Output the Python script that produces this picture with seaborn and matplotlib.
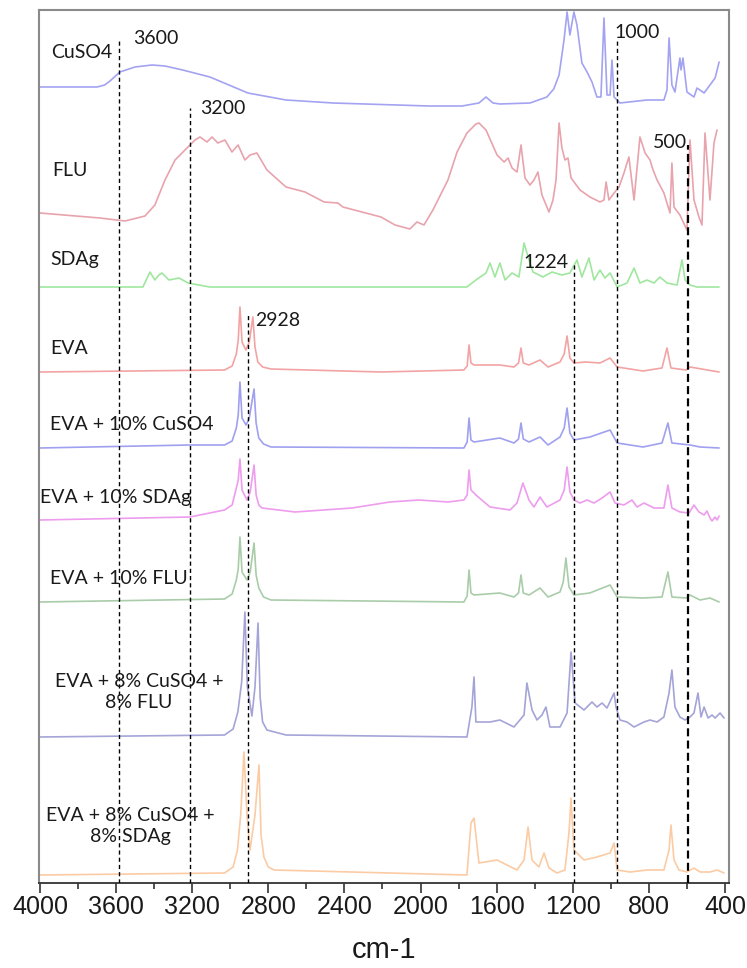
import numpy as np
import pandas as pd
import matplotlib
matplotlib.use("Agg")
import matplotlib.pyplot as plt
import seaborn as sns
from matplotlib.ticker import MultipleLocator

# ---------------- data ----------------
samples = ["CuSO4", "FLU", "SDAg", "EVA", "EVA + 10% CuSO4", "EVA + 10% SDAg",
           "EVA + 10% FLU", "EVA + 8% CuSO4 +\n8% FLU", "EVA + 8% CuSO4 +\n8% SDAg"]
offsets = [796, 670, 596, 511, 435, 363, 281, 146, 8]

cuso4_wn = [4000, 3700, 3660, 3632, 3580, 3501, 3411, 3343, 3250, 3107, 2907, 2707, 2460, 1956, 1782,
            1693, 1656, 1619, 1583, 1425, 1336, 1300, 1272, 1246, 1230, 1215, 1194, 1178, 1152, 1125,
            1099, 1073, 1052, 1036, 1020, 1004, 994, 983, 952, 810, 721, 705, 694, 679, 663,
            637, 631, 621, 600, 563, 547, 510, 479, 452, 431]
cuso4_int = [0, 0, 2, 6, 15, 20, 22, 21, 17, 10, -6, -13, -16, -19, -19,
             -16, -10, -16, -17, -16, -10, -2, 12, 47, 75, 52, 75, 62, 24, 15,
             5, -10, -10, 69, -8, -8, 27, -10, -16, -13, -13, -3, 49, 2, -5,
             29, 17, 29, -5, -10, -1, -6, 2, 9, 25]

flu_wn = [4000, 3685, 3553, 3448, 3396, 3343, 3290, 3238, 3185, 3159, 3122, 3096, 3065, 3028, 2991,
          2959, 2923, 2896, 2860, 2807, 2707, 2607, 2507, 2434, 2408, 2308, 2208, 2134, 2056, 2019,
          1982, 1935, 1856, 1808, 1756, 1709, 1693, 1656, 1598, 1561, 1540, 1519, 1493, 1472, 1451,
          1425, 1404, 1383, 1362, 1325, 1304, 1288, 1272, 1257, 1241, 1225, 1209, 1162, 1110, 1057,
          1036, 1025, 1010, 983, 957, 931, 905, 878, 847, 820, 794, 778, 757, 721, 689,
          679, 668, 637, 600, 584, 563, 537, 521, 505, 479, 458, 442]
flu_int = [0, -5, -8, -3, 8, 33, 53, 63, 73, 76, 71, 76, 70, 73, 61,
           68, 53, 58, 60, 43, 26, 21, 11, 10, 6, 1, -4, -12, -16, -9,
           -12, 3, 33, 61, 80, 89, 90, 83, 58, 51, 55, 45, 41, 68, 35,
           28, 33, 41, 18, 1, 13, 33, 90, 65, 53, 55, 35, 23, 16, 11,
           13, 31, 13, 20, 26, 40, 56, 13, 76, 60, 53, 43, 33, 20, 0,
           50, 6, -2, -17, 73, 13, -4, -12, 80, 13, 70, 83]

sdag_wn = [4000, 3459, 3422, 3396, 3375, 3359, 3322, 3269, 3222, 3107, 1756, 1709, 1656, 1635, 1609,
           1583, 1556, 1519, 1483, 1456, 1430, 1409, 1357, 1309, 1257, 1215, 1178, 1152, 1115, 1088,
           1057, 1031, 1004, 967, 915, 878, 847, 810, 773, 742, 705, 652, 626, 610, 584, 547, 431]
sdag_int = [0, 0, 15, 7, 12, 14, 7, 9, 4, 0, 0, 7, 14, 24, 10,
            24, 7, 14, 10, 44, 27, 15, 10, 15, 12, 14, 27, 10, 29, 7,
            17, 9, 14, 0, 4, 19, 4, 7, 4, 10, 4, 2, 27, 7, 2, 0, 0]

eva_wn = [4000, 3030, 2990, 2968, 2958, 2949, 2938, 2918, 2900, 2881, 2870, 2855, 2830, 2786, 2208,
          1772, 1755, 1745, 1735, 1719, 1583, 1509, 1485, 1472, 1460, 1430, 1372, 1330, 1267, 1245,
          1230, 1215, 1194, 1131, 1057, 1004, 967, 831, 731, 705, 684, 605, 584, 431]
eva_int = [0, 2, 6, 18, 32, 65, 30, 22, 30, 55, 25, 10, 5, 3, 0,
           2, 6, 27, 9, 7, 7, 5, 9, 24, 9, 7, 12, 5, 10, 18,
           36, 14, 9, 10, 9, 14, 5, 1, 4, 24, 4, 2, 5, 0]

eva_cu_wn = [4000, 3212, 3030, 2990, 2968, 2958, 2949, 2938, 2917, 2900, 2875, 2864, 2850, 2825, 2786,
             1772, 1755, 1745, 1735, 1719, 1583, 1509, 1485, 1472, 1460, 1430, 1372, 1330, 1267, 1245,
             1230, 1215, 1194, 1110, 1004, 967, 831, 731, 700, 679, 584, 531, 431]
eva_cu_int = [0, 3, 3, 7, 20, 33, 66, 30, 23, 30, 59, 25, 10, 4, 1,
              0, 6, 30, 8, 6, 10, 5, 9, 25, 9, 6, 11, 3, 11, 20,
              40, 15, 8, 11, 18, 5, 1, 5, 25, 5, 3, 1, 0]

eva_sd_wn = [4000, 3212, 3030, 2990, 2968, 2958, 2949, 2938, 2912, 2895, 2875, 2864, 2850, 2833, 2660,
             2360, 2161, 2008, 1856, 1772, 1755, 1745, 1735, 1709, 1635, 1530, 1493, 1462, 1430, 1404,
             1372, 1336, 1267, 1245, 1230, 1215, 1194, 1162, 1125, 1088, 1046, 1004, 978, 931, 889,
             862, 826, 773, 721, 700, 679, 637, 589, 563, 537, 510, 495, 479, 468, 452,
             442, 431]
eva_sd_int = [0, 3, 10, 15, 32, 40, 61, 30, 20, 28, 55, 25, 15, 12, 8,
              12, 18, 20, 18, 20, 25, 50, 30, 25, 13, 10, 17, 37, 20, 13,
              23, 13, 20, 30, 53, 28, 20, 17, 20, 17, 22, 28, 17, 15, 20,
              13, 17, 12, 12, 35, 12, 8, 7, 15, 8, 5, 9, 2, -1, 3,
              0, 4]

eva_fl_wn = [4000, 3030, 2990, 2968, 2958, 2949, 2938, 2912, 2895, 2875, 2864, 2850, 2825, 2786, 1772,
             1755, 1745, 1735, 1719, 1583, 1509, 1485, 1472, 1460, 1430, 1372, 1330, 1267, 1250, 1236,
             1220, 1194, 1110, 1004, 967, 831, 731, 700, 679, 605, 584, 531, 479, 431]
eva_fl_int = [0, 3, 8, 22, 33, 65, 30, 22, 30, 59, 27, 14, 5, 2, 0,
              6, 32, 9, 7, 9, 5, 9, 27, 9, 7, 14, 5, 10, 20, 44,
              15, 7, 9, 17, 5, 4, 5, 30, 5, 4, 7, 2, 4, 0]

mix_fl_wn = [4000, 3030, 2985, 2960, 2940, 2923, 2910, 2886, 2870, 2854, 2843, 2830, 2807, 2707, 1756,
             1730, 1719, 1709, 1635, 1583, 1509, 1456, 1441, 1414, 1388, 1362, 1341, 1320, 1267, 1230,
             1209, 1188, 1141, 1099, 1073, 1046, 1020, 983, 973, 952, 915, 878, 826, 794, 757,
             721, 694, 679, 663, 637, 610, 584, 563, 542, 526, 510, 489, 468, 452, 426,
             405]
mix_fl_int = [0, 2, 8, 25, 55, 125, 50, 21, 50, 114, 40, 15, 7, 2, 0,
              30, 60, 15, 15, 17, 10, 22, 54, 27, 17, 22, 30, 10, 10, 24,
              85, 34, 27, 35, 30, 34, 29, 44, 30, 17, 15, 10, 15, 17, 15,
              20, 44, 67, 30, 20, 17, 20, 24, 44, 20, 30, 19, 22, 19, 24,
              19]

mix_sd_wn = [4000, 3030, 2985, 2962, 2945, 2928, 2912, 2896, 2870, 2849, 2838, 2823, 2800, 2770, 1756,
             1735, 1719, 1693, 1598, 1546, 1493, 1456, 1435, 1414, 1378, 1351, 1325, 1283, 1241, 1220,
             1209, 1194, 1141, 1073, 1004, 983, 967, 899, 810, 721, 694, 684, 668, 642, 600,
             563, 531, 479, 442, 405]
mix_sd_int = [0, 2, 8, 25, 60, 123, 60, 25, 60, 110, 40, 18, 8, 5, 0,
              52, 57, 12, 15, 10, 5, 15, 48, 15, 8, 22, 7, 2, 5, 42,
              77, 25, 15, 18, 22, 32, 5, 3, 5, 5, 25, 50, 15, 5, 3,
              7, 3, 3, 5, 2]

spectra_wn = [cuso4_wn, flu_wn, sdag_wn, eva_wn, eva_cu_wn, eva_sd_wn, eva_fl_wn, mix_fl_wn, mix_sd_wn]
spectra_int = [cuso4_int, flu_int, sdag_int, eva_int, eva_cu_int, eva_sd_int, eva_fl_int, mix_fl_int, mix_sd_int]

# marker lines (position, height) and their labels
marker_labels = ["3600", "3200", "2928", "1224", "1000", "500"]
marker_wn = [3585, 3212, 2907, 1194, 967, 594]
marker_top = [843, 775, 568, 620, 845, 738]

x_ticks = [4000, 3600, 3200, 2800, 2400, 2000, 1600, 1200, 800, 400]
x_label = "cm-1"

# ---------------- styles ----------------
colors = ["#a3a3f2", "#e8a3ad", "#9fe79f", "#f3a3a3", "#a0a0f0", "#ee9cee",
          "#a9cca9", "#a4a4d8", "#fbcba4"]
label_pos = [(3942, 831, "left"), (3937, 713, "left"), (3948, 623, "left"), (3948, 535, "left"),
             (3948, 458, "left"), (4000, 385, "left"), (3948, 305, "left"),
             (3480, 191, "center"), (3527, 57, "center")]
marker_text_pos = [(3511, 844, "left"), (3159, 774, "left"), (2870, 563, "left"),
                   (1220, 620, "right"), (983, 850, "left"), (600, 741, "right")]
marker_lw = [1.0, 1.0, 1.0, 1.0, 1.0, 1.6]
marker_dash = [(3, 2.2), (3, 2.2), (3, 2.2), (3, 2.2), (3, 2.2), (3.6, 1.9)]

# ---------------- build table ----------------
frames = []
for name, off, wn, inten in zip(samples, offsets, spectra_wn, spectra_int):
    frames.append(pd.DataFrame({"wn": wn, "y": np.asarray(inten, float) + off, "sample": name}))
df = pd.concat(frames, ignore_index=True)

sns.set_theme(style="white")
plt.rcParams["font.family"] = ["Liberation Sans", "DejaVu Sans"]

fig = plt.figure(figsize=(7.47, 9.68), dpi=100)
ax = fig.add_axes([39 / 747, 1 - 883 / 968, 690 / 747, 873 / 968])

sns.lineplot(data=df, x="wn", y="y", hue="sample", hue_order=samples,
             palette=dict(zip(samples, colors)), estimator=None, sort=False,
             legend=False, linewidth=1.2, ax=ax)
for line in ax.lines:
    line.set_solid_joinstyle("round")

for w, top, lw, dash in zip(marker_wn, marker_top, marker_lw, marker_dash):
    ax.vlines(w, 0, top, colors="black", linewidth=lw, linestyles=[(0, dash)], zorder=3)

for (tx, ty, ha), txt in zip(marker_text_pos, marker_labels):
    ax.text(tx, ty, txt, ha=ha, va="center", fontsize=14, family=["Lato", "DejaVu Sans"],
            color="#1a1a1a", zorder=4)

for (tx, ty, ha), txt in zip(label_pos, samples):
    ax.text(tx, ty, txt, ha=ha, va="center", fontsize=14, family=["Lato", "DejaVu Sans"],
            color="#1a1a1a", linespacing=1.25, zorder=4, multialignment="center")

ax.set_xlim(4005, 379)
ax.set_ylim(0, 873)
ax.set_xticks(x_ticks)
ax.set_xticklabels([str(t) for t in x_ticks])
ax.xaxis.set_minor_locator(MultipleLocator(200))
ax.set_yticks([])
ax.set_ylabel("")
ax.set_xlabel(x_label, fontsize=21, labelpad=12, color="#1a1a1a")
ax.tick_params(axis="x", which="major", direction="out", length=7, width=1.2,
               colors="#333333", labelsize=18, pad=2, labelcolor="#1a1a1a")
ax.tick_params(axis="x", which="minor", direction="out", length=4, width=1.2, colors="#333333")
ax.xaxis.set_ticks_position("bottom")

for side in ["top", "left", "right"]:
    ax.spines[side].set_color("#8a8a8a")
    ax.spines[side].set_linewidth(1.5)
ax.spines["bottom"].set_color("#333333")
ax.spines["bottom"].set_linewidth(1.3)

fig.savefig("out.png", dpi=100)
